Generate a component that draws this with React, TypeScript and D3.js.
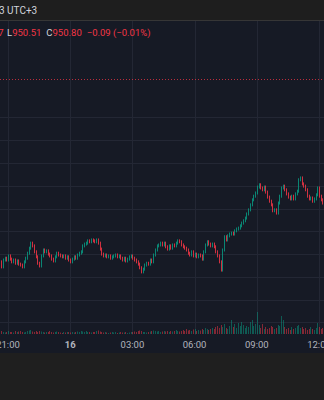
import React from 'react';
import * as d3 from 'd3';

// ---- data ----
const startTime = new Date(2024, 0, 15, 20, 35);
const stepMinutes = 5;
const firstOpen = 946.87;
const closes = [
  946.83, 946.72, 946.87, 946.91, 946.87, 946.96, 946.89, 946.83, 946.87, 946.80,
  946.85, 946.78, 946.76, 946.72, 946.83, 946.91, 947.02, 947.13, 947.24, 947.18,
  947.05, 946.94, 946.80, 946.74, 946.96, 947.09, 947.05, 947.07, 947.00, 946.96,
  946.89, 946.85, 946.94, 947.02, 946.98, 946.96, 946.94, 946.96, 946.91, 946.94,
  946.87, 946.83, 946.89, 946.94, 946.91, 946.98, 947.02, 947.05, 947.18, 947.22,
  947.24, 947.29, 947.27, 947.31, 947.29, 947.27, 947.31, 947.24, 947.11, 947.00,
  946.96, 946.98, 946.94, 946.96, 946.91, 946.94, 946.96, 946.98, 946.94, 946.96,
  946.91, 946.87, 946.91, 946.85, 946.89, 946.94, 946.96, 946.91, 946.87, 946.83,
  946.78, 946.70, 946.61, 946.67, 946.76, 946.80, 946.78, 946.87, 946.83, 946.98,
  947.09, 947.18, 947.20, 947.24, 947.20, 947.24, 947.16, 947.11, 947.18, 947.13,
  947.20, 947.18, 947.24, 947.29, 947.27, 947.20, 947.16, 947.13, 947.09, 947.02,
  946.98, 947.05, 946.96, 947.00, 946.94, 946.98, 946.96, 946.89, 947.05, 947.20,
  947.27, 947.22, 947.18, 947.22, 947.16, 947.05, 946.96, 946.83, 946.65, 947.09,
  947.38, 947.31, 947.40, 947.44, 947.46, 947.44, 947.51, 947.55, 947.57, 947.62,
  947.68, 947.73, 947.79, 947.88, 947.97, 948.08, 948.19, 948.27, 948.34, 948.47,
  948.52, 948.45, 948.41, 948.47, 948.36, 948.25, 948.16, 948.08, 947.95, 947.97,
  947.90, 948.12, 948.27, 948.45, 948.49, 948.41, 948.32, 948.25, 948.21, 948.27,
  948.21, 948.32, 948.38, 948.63, 948.67, 948.54, 948.49, 948.41, 948.27, 948.21,
  948.23, 948.16, 948.21, 948.30, 948.45, 948.27, 948.19, 948.12, 948.08,
];
const volumes = [
  2, 3, 2, 1.5, 2, 3, 2, 2, 1.5, 3,
  2, 2.5, 3, 2, 1.5, 2, 3, 3.5, 4, 2.5,
  2, 3, 2, 3, 2.5, 2, 1.5, 2, 2, 3,
  2, 1.5, 2, 2.5, 2, 1.5, 1, 2, 1.5, 2,
  2, 1.5, 2, 1.5, 2, 2.5, 2, 3, 2.5, 2,
  3, 2, 2, 1.5, 2, 2, 3, 3.5, 2.5, 2,
  1.5, 2, 1.5, 1, 1.5, 2, 1.5, 2, 1, 1.5,
  2, 1.5, 1.5, 2, 1, 1.5, 2, 2, 2.5, 2,
  3, 3.5, 3, 2, 2, 1.5, 2, 2.5, 3, 3.5,
  3, 2.5, 3, 2, 2.5, 3, 2.5, 3, 2, 3,
  2.5, 3, 4, 3, 2.5, 3, 4, 3, 5, 3.5,
  4, 3, 4.5, 5, 3, 4, 3.5, 5, 4, 6,
  5, 4, 5, 6, 5, 7, 8, 6, 9, 7,
  10, 6, 5, 8, 14, 7, 10, 6, 11, 8,
  12, 9, 6, 8, 7, 12, 14, 8, 10, 22,
  9, 6, 10, 5, 7, 5, 6, 8, 7, 5,
  6, 9, 8, 18, 14, 7, 5, 6, 4, 7,
  5, 6, 8, 9, 6, 7, 5, 6, 4, 5,
  7, 5, 4, 6, 11, 7, 5, 6, 5,
];
const lastPrice = 950.84;
const gridPrices = [950, 949.5, 949, 948.5, 948, 947.5, 947, 946.5, 946, 945.5];
const prevHigh = 'H950.87';
const lowLabel = 'L';
const lowValue = '950.51';
const closeLabel = 'C';
const closeValue = '950.80';
const changeText = '\u22120.09 (\u22120.01%)';
const headerText = '3 UTC+3';

// ---- style ----
const W = 324;
const H = 400;
const GREEN = '#089981';
const RED = '#f23645';
const FONT = 'Roboto, "Noto Sans", sans-serif';

export default function App() {
  const paneTop = 21;
  const paneBottom = 335;
  const axisBottom = 353;

  const times = closes.map((_, i) => new Date(startTime.getTime() + i * stepMinutes * 60000));
  const x = d3
    .scaleTime()
    .domain([new Date(2024, 0, 15, 21, 0), new Date(2024, 0, 16, 12, 0)])
    .range([8, 319]);
  const y = d3.scaleLinear().domain([946, 950]).range([117.3 + 4 * 45.6, 117.3]);
  const v = d3.scaleLinear().domain([0, 40]).range([334, 294]);

  const priceTicks = gridPrices.filter((p) => y(p) > paneTop && y(p) < paneBottom);
  const timeTicks = x.ticks(d3.timeHour.every(3) as any);
  const fmt = (d: Date) => (d.getHours() === 0 ? d3.timeFormat('%-d')(d) : d3.timeFormat('%H:%M')(d));

  const candles = closes.map((c, i) => {
    const o = i === 0 ? firstOpen : closes[i - 1];
    const up = c >= o;
    const px = Math.round(x(times[i])) + 0.5;
    return { px, o, c, up, vol: volumes[i] };
  });

  return (
    <svg
      width={W}
      height={H}
      style={{ position: 'absolute', left: 0, top: 0, display: 'block' }}
    >
      {/* top bar */}
      <rect x={0} y={0} width={W} height={20} fill="#1e1e1e" />
      <line x1={0} x2={W} y1={20.5} y2={20.5} stroke="#363636" />
      <text x={-1} y={14} fill="#d1d4dc" fontSize={10} fontFamily={FONT}>
        {headerText}
      </text>

      {/* pane */}
      <rect x={0} y={paneTop} width={W} height={axisBottom - paneTop} fill="#161a25" />
      <rect x={0} y={axisBottom} width={W} height={H - axisBottom} fill="#1f1f1f" />

      {/* grid */}
      {priceTicks.map((p) => (
        <line
          key={'h' + p}
          x1={0}
          x2={W}
          y1={Math.round(y(p)) + 0.5}
          y2={Math.round(y(p)) + 0.5}
          stroke="#232734"
        />
      ))}
      {timeTicks.map((t) => (
        <line
          key={'v' + t.getTime()}
          x1={Math.round(x(t)) + 0.5}
          x2={Math.round(x(t)) + 0.5}
          y1={paneTop}
          y2={paneBottom}
          stroke="#232734"
        />
      ))}

      {/* last price line */}
      <line
        x1={0}
        x2={W}
        y1={Math.round(y(lastPrice)) + 0.5}
        y2={Math.round(y(lastPrice)) + 0.5}
        stroke={RED}
        strokeOpacity={0.75}
        strokeDasharray="1 2"
      />

      {/* volume */}
      {candles.map((d, i) => (
        <line
          key={'vol' + i}
          x1={d.px}
          x2={d.px}
          y1={v(0)}
          y2={v(d.vol)}
          stroke={d.up ? GREEN : RED}
          strokeOpacity={0.5}
        />
      ))}

      {/* candles */}
      {candles.map((d, i) => {
        const top = y(Math.max(d.o, d.c)) - 1.5;
        const bot = y(Math.min(d.o, d.c)) + 1.5;
        return (
          <line
            key={'c' + i}
            x1={d.px}
            x2={d.px}
            y1={top}
            y2={bot}
            stroke={d.up ? GREEN : RED}
            strokeOpacity={0.85}
          />
        );
      })}

      {/* legend */}
      <text y={36} fontSize={9.5} fontFamily={FONT}>
        <tspan x={3.5} textAnchor="end" fill={RED}>
          {prevHigh}
        </tspan>
      </text>
      <text x={7} y={36} fontSize={9.5} fontFamily={FONT}>
        <tspan fill="#d1d4dc">{lowLabel}</tspan>
        <tspan fill={RED}>{lowValue}</tspan>
        <tspan dx={5} fill="#d1d4dc">{closeLabel}</tspan>
        <tspan fill={RED}>{closeValue}</tspan>
        <tspan dx={5} fill={RED}>{changeText}</tspan>
      </text>

      {/* time axis labels */}
      {timeTicks.map((t) => (
        <text
          key={'t' + t.getTime()}
          x={x(t)}
          y={348}
          textAnchor="middle"
          fill="#b2b5be"
          fontSize={9.5}
          fontWeight={t.getHours() === 0 ? 'bold' : 'normal'}
          fontFamily={FONT}
        >
          {fmt(t)}
        </text>
      ))}
    </svg>
  );
}
